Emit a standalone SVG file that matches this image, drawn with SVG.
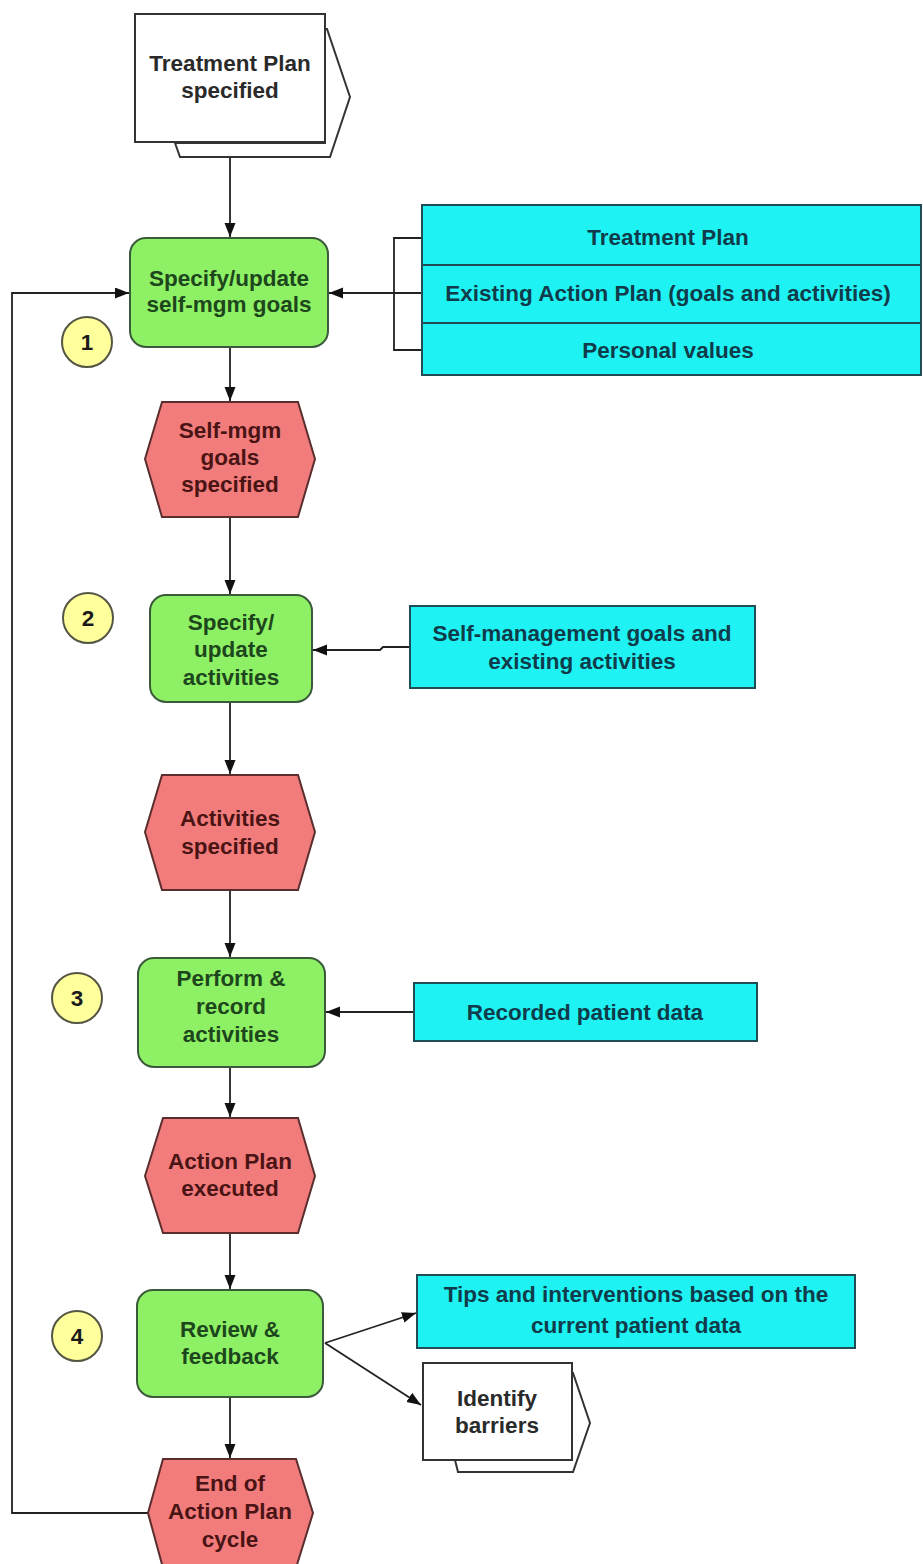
<svg xmlns="http://www.w3.org/2000/svg" width="923" height="1564" viewBox="0 0 923 1564">
  <style>
    text { font-family: "Liberation Sans", Arial, sans-serif; font-weight: bold; font-size: 22.5px; text-anchor: middle; }
    .fn { fill: #8ef064; stroke: #3b5a3b; stroke-width: 2; }
    .fn-t { fill: #1d461d; }
    .ev { fill: #f27c7c; stroke: #5a2e2e; stroke-width: 2; }
    .ev-t { fill: #4a1414; }
    .info { fill: #1ff2f2; stroke: #1f4c55; stroke-width: 2; }
    .info-t { fill: #0f3b4a; }
    .doc { fill: #ffffff; stroke: #333333; stroke-width: 2; }
    .doc-t { fill: #2a2a2a; }
    .num { fill: #ffff9c; stroke: #555544; stroke-width: 2; }
    .num-t { fill: #1a1a1a; }
    .conn { fill: none; stroke: #222222; stroke-width: 1.8; }
  </style>
  <defs>
    <marker id="arrow" markerUnits="userSpaceOnUse" markerWidth="16" markerHeight="12" refX="14" refY="5.5" orient="auto">
      <path d="M0,0 L14,5.5 L0,11 z" fill="#111111"/>
    </marker>
  </defs>

  <rect width="923" height="1564" fill="#ffffff"/>

  <!-- connectors -->
  <g id="connectors">
    <line class="conn" x1="230" y1="142" x2="230" y2="237" marker-end="url(#arrow)"/>
    <line class="conn" x1="230" y1="347" x2="230" y2="401" marker-end="url(#arrow)"/>
    <line class="conn" x1="230" y1="517" x2="230" y2="594" marker-end="url(#arrow)"/>
    <line class="conn" x1="230" y1="702" x2="230" y2="774" marker-end="url(#arrow)"/>
    <line class="conn" x1="230" y1="890" x2="230" y2="957" marker-end="url(#arrow)"/>
    <line class="conn" x1="230" y1="1067" x2="230" y2="1117" marker-end="url(#arrow)"/>
    <line class="conn" x1="230" y1="1233" x2="230" y2="1289" marker-end="url(#arrow)"/>
    <line class="conn" x1="230" y1="1397" x2="230" y2="1458" marker-end="url(#arrow)"/>
    <!-- feedback loop back to step 1 -->
    <polyline class="conn" points="148,1513 12,1513 12,293 129,293" marker-end="url(#arrow)"/>
    <!-- inputs bracket for step 1 -->
    <polyline class="conn" points="422,238 394,238 394,350 422,350"/>
    <line class="conn" x1="422" y1="293" x2="329" y2="293" marker-end="url(#arrow)"/>
    <polyline class="conn" points="410,647 383,647 380,650 313,650" marker-end="url(#arrow)"/>
    <line class="conn" x1="414" y1="1012" x2="326" y2="1012" marker-end="url(#arrow)"/>
    <line class="conn" x1="325" y1="1343" x2="416" y2="1313" marker-end="url(#arrow)"/>
    <line class="conn" x1="325" y1="1343" x2="421" y2="1405" marker-end="url(#arrow)"/>
  </g>

  <!-- start document -->
  <g id="treatment-plan-specified">
    <polygon class="doc" points="175,143 180,157 330,157 350,97 327,29 325,29 325,143"/>
    <rect class="doc" x="135" y="14" width="190" height="128"/>
    <text class="doc-t" x="230" y="71">Treatment Plan</text>
    <text class="doc-t" x="230" y="98">specified</text>
  </g>

  <!-- step 1 -->
  <g id="specify-goals">
    <rect class="fn" x="130" y="238" width="198" height="109" rx="16" ry="16"/>
    <text class="fn-t" x="229" y="286">Specify/update</text>
    <text class="fn-t" x="229" y="312">self-mgm goals</text>
  </g>
  <g id="step-1">
    <circle class="num" cx="87" cy="342" r="25"/>
    <text class="num-t" x="87" y="350">1</text>
  </g>
  <g id="goal-inputs">
    <rect class="info" x="422" y="205" width="499" height="170"/>
    <line class="info" x1="422" y1="265" x2="921" y2="265"/>
    <line class="info" x1="422" y1="323" x2="921" y2="323"/>
    <text class="info-t" x="668" y="245">Treatment Plan</text>
    <text class="info-t" x="668" y="301">Existing Action Plan (goals and activities)</text>
    <text class="info-t" x="668" y="358">Personal values</text>
  </g>
  <g id="goals-specified">
    <polygon class="ev" points="162,402 298,402 315,459 298,517 162,517 145,459"/>
    <text class="ev-t" x="230" y="438">Self-mgm</text>
    <text class="ev-t" x="230" y="465">goals</text>
    <text class="ev-t" x="230" y="492">specified</text>
  </g>

  <!-- step 2 -->
  <g id="specify-activities">
    <rect class="fn" x="150" y="595" width="162" height="107" rx="16" ry="16"/>
    <text class="fn-t" x="231" y="630">Specify/</text>
    <text class="fn-t" x="231" y="657">update</text>
    <text class="fn-t" x="231" y="685">activities</text>
  </g>
  <g id="step-2">
    <circle class="num" cx="88" cy="618" r="25"/>
    <text class="num-t" x="88" y="626">2</text>
  </g>
  <g id="activity-inputs">
    <rect class="info" x="410" y="606" width="345" height="82"/>
    <text class="info-t" x="582" y="641">Self-management goals and</text>
    <text class="info-t" x="582" y="669">existing activities</text>
  </g>
  <g id="activities-specified">
    <polygon class="ev" points="162,775 298,775 315,832 298,890 162,890 145,832"/>
    <text class="ev-t" x="230" y="826">Activities</text>
    <text class="ev-t" x="230" y="854">specified</text>
  </g>

  <!-- step 3 -->
  <g id="perform-record">
    <rect class="fn" x="138" y="958" width="187" height="109" rx="16" ry="16"/>
    <text class="fn-t" x="231" y="986">Perform &amp;</text>
    <text class="fn-t" x="231" y="1014">record</text>
    <text class="fn-t" x="231" y="1042">activities</text>
  </g>
  <g id="step-3">
    <circle class="num" cx="77" cy="998" r="25"/>
    <text class="num-t" x="77" y="1006">3</text>
  </g>
  <g id="recorded-data">
    <rect class="info" x="414" y="983" width="343" height="58"/>
    <text class="info-t" x="585" y="1020">Recorded patient data</text>
  </g>
  <g id="plan-executed">
    <polygon class="ev" points="163,1118 298,1118 315,1176 298,1233 163,1233 145,1176"/>
    <text class="ev-t" x="230" y="1169">Action Plan</text>
    <text class="ev-t" x="230" y="1196">executed</text>
  </g>

  <!-- step 4 -->
  <g id="review-feedback">
    <rect class="fn" x="137" y="1290" width="186" height="107" rx="16" ry="16"/>
    <text class="fn-t" x="230" y="1337">Review &amp;</text>
    <text class="fn-t" x="230" y="1364">feedback</text>
  </g>
  <g id="step-4">
    <circle class="num" cx="77" cy="1336" r="25"/>
    <text class="num-t" x="77" y="1344">4</text>
  </g>
  <g id="tips">
    <rect class="info" x="417" y="1275" width="438" height="73"/>
    <text class="info-t" x="636" y="1302">Tips and interventions based on the</text>
    <text class="info-t" x="636" y="1333">current patient data</text>
  </g>
  <g id="identify-barriers">
    <polygon class="doc" points="455,1460 458,1472 573,1472 590,1423 573,1373 572,1373 572,1460"/>
    <rect class="doc" x="423" y="1363" width="149" height="97"/>
    <text class="doc-t" x="497" y="1406">Identify</text>
    <text class="doc-t" x="497" y="1433">barriers</text>
  </g>

  <!-- end event -->
  <g id="cycle-end">
    <polygon class="ev" points="163,1459 296,1459 313,1513 296,1568 163,1568 148,1513"/>
    <text class="ev-t" x="230" y="1491">End of</text>
    <text class="ev-t" x="230" y="1519">Action Plan</text>
    <text class="ev-t" x="230" y="1547">cycle</text>
  </g>
</svg>
